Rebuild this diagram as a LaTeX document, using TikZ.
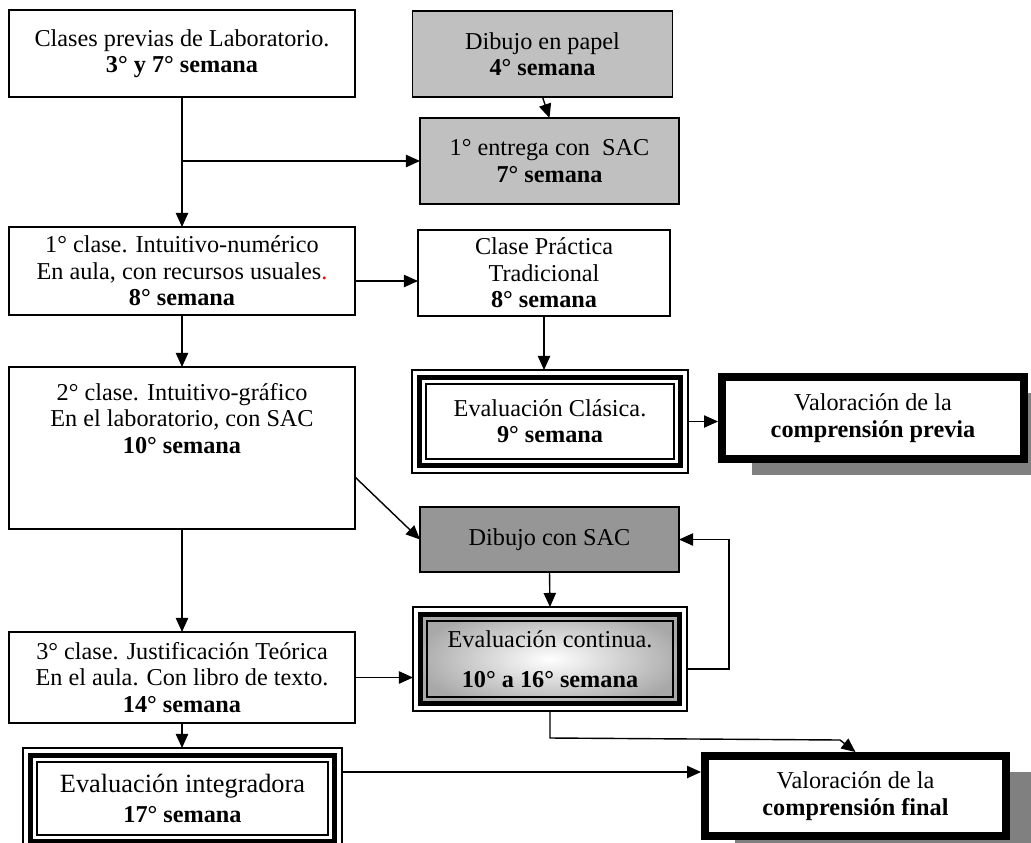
\documentclass[tikz,border=0pt]{standalone}
\usepackage{fontspec}
\setmainfont{Liberation Serif}
\usetikzlibrary{arrows.meta,shadows}
\definecolor{lightgris}{HTML}{C0C0C0}
\definecolor{darkgris}{HTML}{969696}
\definecolor{shadowgris}{HTML}{808080}
\definecolor{contgris}{HTML}{A8A8A8}
\newdimen\pu \pu=0.02cm
\newcommand\triplebox[1]{%
  \draw[line width=3.4pt] ([shift={(7.5,7.5)}]#1.north west) rectangle ([shift={(-7.5,-7.5)}]#1.south east);
  \draw[line width=0.7pt] ([shift={(14,14)}]#1.north west) rectangle ([shift={(-14,-14)}]#1.south east);}
\tikzset{
  box/.style={draw, line width=0.8pt, inner sep=0pt, outer sep=0pt, align=center,
    font=\fontsize{13.8}{15}\selectfont},
  grisbox/.style={box, fill=lightgris},
  darkbox/.style={box, fill=darkgris},
  tribox/.style={draw, line width=0.7pt, inner sep=0pt, outer sep=0pt, align=center,
    font=\fontsize{13.8}{15}\selectfont},
  valbox/.style={draw, line width=4.5pt, fill=white, inner sep=0pt, align=center,
    font=\fontsize{13.8}{15}\selectfont,
    drop shadow={shadow xshift=30\pu, shadow yshift=-16\pu, fill=shadowgris, opacity=1}},
  arr/.style={-{Triangle[length=8pt,width=7pt]}, line width=0.8pt}
}
\begin{document}
\begin{tikzpicture}[x=0.02cm, y=-0.02cm]
\useasboundingbox (0,0) rectangle (1031,842);
\node[box, minimum width=346\pu, minimum height=87\pu] (prev) at (182,53.5)
  {Clases previas de Laboratorio.\\ \textbf{3° y 7° semana}};
\node[grisbox, minimum width=260\pu, minimum height=86\pu] (papel) at (542.5,54)
  {Dibujo en papel\\ \textbf{4° semana}};
\node[grisbox, minimum width=259\pu, minimum height=86\pu] (ent) at (549.5,161)
  {1° entrega con~ SAC\\ \textbf{7° semana}};
\node[box, minimum width=346\pu, minimum height=88\pu] (c1) at (182,271)
  {1° clase. Intuitivo-numérico\\ En aula, con recursos usuales\textcolor{red}{.}\\ \textbf{8° semana}};
\node[box, minimum width=252\pu, minimum height=86\pu] (prac) at (544,273)
  {Clase Práctica\\ Tradicional\\ \textbf{8° semana}};
\node[tribox, minimum width=276\pu, minimum height=103\pu] (clas) at (550,421.5)
  {Evaluación Clásica.\\ \textbf{9° semana}};
\node[valbox, minimum width=302\pu, minimum height=82\pu] (vprev) at (873,418)
  {Valoración de la\\ \textbf{comprensión previa}};
\node[box, minimum width=346\pu, minimum height=162\pu] (c2) at (182,448)
  {2° clase. Intuitivo-gráfico\\ En el laboratorio, con SAC\\ \textbf{10° semana}\\[19pt]\mbox{}};
\node[darkbox, minimum width=259\pu, minimum height=65\pu] (dib) at (549.5,539.5)
  {Dibujo con SAC};
\node[tribox, minimum width=274\pu, minimum height=104\pu,
  path picture={\shade[inner color=white, outer color=contgris]
    ([shift={(7.5,7.5)}]path picture bounding box.north west) rectangle
    ([shift={(-7.5,-7.5)}]path picture bounding box.south east);}] (cont) at (550,659)
  {Evaluación continua.\\[8pt] \textbf{10° a 16° semana}};
\node[box, minimum width=346\pu, minimum height=91\pu] (c3) at (182,677.5)
  {3° clase. Justificación Teórica\\ En el aula. Con libro de texto.\\ \textbf{14° semana}};
\node[tribox, minimum width=319\pu, minimum height=101\pu] (integ) at (182.5,798.5)
  {{\fontsize{15}{17}\selectfont Evaluación integradora}\\[2pt] \textbf{17° semana}};
\node[valbox, minimum width=301\pu, minimum height=80\pu] (fin) at (855.5,796)
  {Valoración de la\\ \textbf{comprensión final}};
\triplebox{clas}
\triplebox{cont}
\triplebox{integ}
\coordinate (j1) at (prev.south |- ent.west);
\coordinate (j2) at ([yshift=-10\pu]c1.east);
\coordinate (j3) at ([yshift=-29\pu]c2.east);
\coordinate (j4) at ([yshift=24\pu]fin.west);
\draw[arr] (prev.south) -- (c1.north);
\draw[arr] (j1) -- (ent.west);
\draw[arr] (papel.south) -- (ent.north);
\draw[arr] (j2) -- (j2 -| prac.west);
\draw[arr] (prac.south) -- (prac.south |- clas.north);
\draw[arr] (clas.east) -- (clas.east -| vprev.west);
\draw[arr] (c1.south) -- (c2.north);
\draw[arr] (j3) -- (dib.west);
\draw[arr] (c2.south) -- (c3.north);
\draw[arr] (dib.south) -- (cont.north);
\draw[arr] ([yshift=-10\pu]cont.east) -- ++(42,0) |- (dib.east);
\draw[arr] (c3.east) -- (c3.east -| cont.west);
\draw[arr] (c3.south) -- (c3.south |- integ.north);
\draw[arr] (cont.south) -- ++(0,27) -- ++(290,2) -- (fin.north);
\draw[arr] (integ.east |- j4) -- (j4);
\end{tikzpicture}
\end{document}
